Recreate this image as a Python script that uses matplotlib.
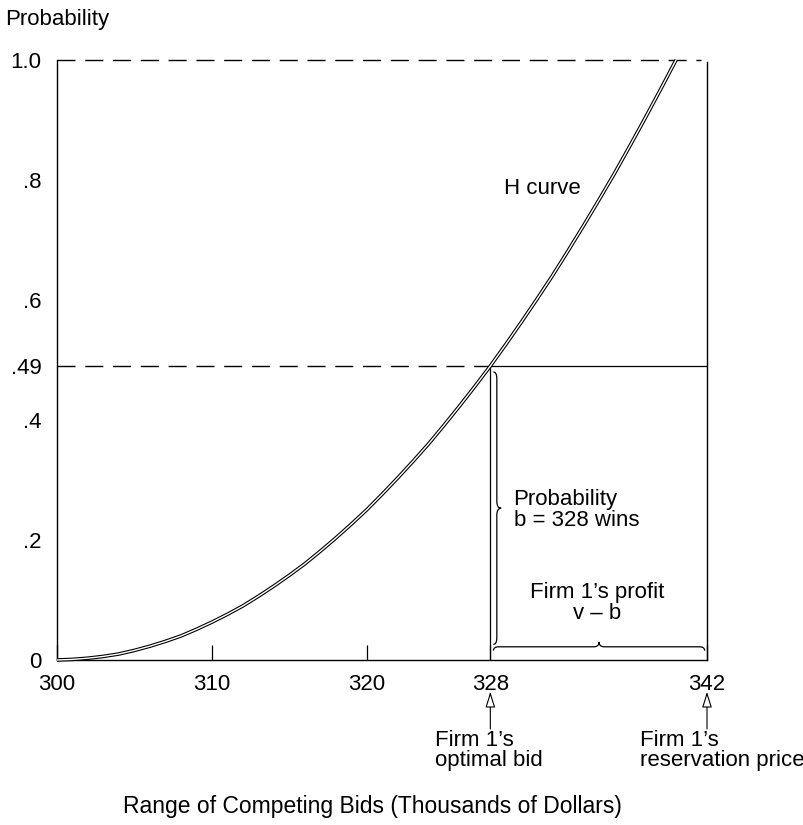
import matplotlib.pyplot as plt
import numpy as np
from matplotlib.path import Path
from matplotlib.patches import PathPatch

plt.rcParams['font.family'] = ['Liberation Sans', 'DejaVu Sans']

# H curve (bid in $1000s, probability)
bids = [300, 301, 302, 303, 304, 305, 306, 307, 308, 309, 310,
        311, 312, 313, 314, 315, 316, 317, 318, 319, 320,
        321, 322, 323, 324, 325, 326, 327, 328, 329, 330,
        331, 332, 333, 334, 335, 336, 337, 338, 339, 340]
prob = [0.0, 0.001, 0.003, 0.006, 0.010, 0.016, 0.023, 0.031, 0.040, 0.051, 0.063,
        0.076, 0.090, 0.106, 0.123, 0.141, 0.160, 0.181, 0.203, 0.226, 0.250,
        0.276, 0.303, 0.331, 0.360, 0.391, 0.423, 0.456, 0.490, 0.526, 0.563,
        0.601, 0.640, 0.681, 0.723, 0.766, 0.810, 0.856, 0.903, 0.951, 1.0]

xticks = [300, 310, 320, 328, 342]
yticks = [0, 0.2, 0.4, 0.49, 0.6, 0.8, 1.0]
ylabels = ['0', '.2', '.4', '.49', '.6', '.8', '1.0']
bid = 328
p_bid = 0.49
v = 342

FS = 16

fig = plt.figure(figsize=(8.04, 8.25), dpi=100)
ax = fig.add_axes([57/804, 1-660/825, 650/804, 600/825])
ax.set_xlim(300, 342)
ax.set_ylim(0, 1.0)

for s in ['top', 'right']:
    ax.spines[s].set_visible(False)
ax.spines['left'].set_linewidth(1.0)
ax.spines['bottom'].set_linewidth(1.0)

# right edge line at reservation price
ax.plot([v, v], [0, 0.997], color='black', lw=1.0, clip_on=False)

# dashed reference lines
ax.plot([300, 341.6], [1.0, 1.0], color='black', lw=1.0, dashes=(13, 7), clip_on=False)
ax.plot([300, bid], [p_bid, p_bid], color='black', lw=1.0, dashes=(13, 7))
ax.plot([bid, v], [p_bid, p_bid], color='black', lw=0.9)
ax.plot([bid, bid], [0, p_bid], color='black', lw=0.9)

# double-line H curve
ax.plot(bids, prob, color='black', lw=2.6, solid_capstyle='butt', clip_on=False, zorder=3)
ax.plot(bids, prob, color='white', lw=1.0, solid_capstyle='butt', clip_on=False, zorder=4)

ax.set_xticks(xticks)
ax.set_xticklabels([str(t) for t in xticks])
ax.set_yticks(yticks)
ax.set_yticklabels(ylabels)
ax.tick_params(axis='x', direction='in', length=11, width=0.9, pad=10, labelsize=FS)
ax.tick_params(axis='y', length=0, pad=11, labelsize=FS)


def brace(a0, a1, c, h, ax, vertical=False):
    # curly brace from a0 to a1 at level c, tip pointing +h
    am = (a0 + a1) / 2
    d = (a1 - a0) * 0.025
    pts = [(a0, c - h * 0.8), (a0, c), (a0 + d, c),
           (am - d, c), (am, c), (am, c + h),
           (am, c), (am + d, c),
           (a1 - d, c), (a1, c), (a1, c - h * 0.8)]
    codes = [Path.MOVETO, Path.CURVE3, Path.CURVE3,
             Path.LINETO, Path.CURVE3, Path.CURVE3,
             Path.CURVE3, Path.CURVE3,
             Path.LINETO, Path.CURVE3, Path.CURVE3]
    if vertical:
        pts = [(b, a) for a, b in pts]
    ax.add_patch(PathPatch(Path(pts, codes), fc='none', ec='black', lw=0.9))


brace(328.2, 341.85, 0.022, 0.008, ax)
brace(0.48, 0.026, 328.42, 0.28, ax, vertical=True)

ax.text(328.9, 0.785, 'H curve', fontsize=FS, va='center', ha='left')
ax.text(329.5, 0.25, 'Probability\nb = 328 wins', fontsize=FS, va='center', ha='left',
        linespacing=1.0)
ax.text(334.9, 0.095, 'Firm 1\u2019s profit\nv \u2013 b', fontsize=FS, va='center', ha='center',
        linespacing=1.05)

# arrows below axis
for xa, txt, dx in [(bid, 'Firm 1\u2019s\noptimal bid', -3.6), (v, 'Firm 1\u2019s\nreservation price', -4.35)]:
    ax.annotate('', xy=(xa, -0.053), xytext=(xa, -0.115), xycoords='data', textcoords='data',
                arrowprops=dict(arrowstyle='-|>,head_length=0.8,head_width=0.25', lw=0.8,
                                fc='white', ec='black', mutation_scale=12,
                                shrinkA=0, shrinkB=0),
                annotation_clip=False)
    ax.text(xa + dx, -0.117, txt, fontsize=FS, va='top', ha='left', linespacing=0.95,
            clip_on=False)

fig.text(372/804, 1-807/825, 'Range of Competing Bids (Thousands of Dollars)', fontsize=16.5,
         ha='center', va='center')
fig.text(5/804, 1-20/825, 'Probability', fontsize=FS, ha='left', va='center')

fig.savefig('out.png', dpi=100)
